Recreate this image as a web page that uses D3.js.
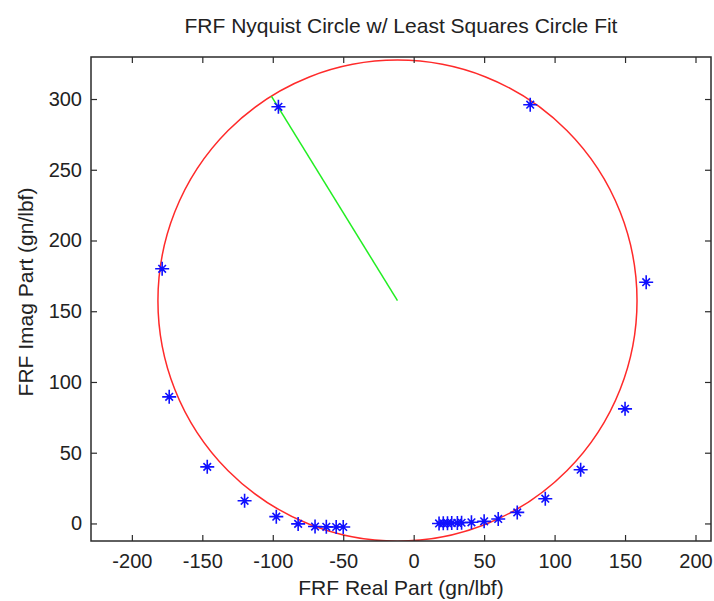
<!DOCTYPE html>
<html>
<head>
<meta charset="utf-8">
<script src="https://cdn.jsdelivr.net/npm/d3@7"></script>
<style>
  html, body { margin: 0; padding: 0; background: #fff; }
  svg { display: block; font-family: "Liberation Sans", Arial, sans-serif; }
</style>
</head>
<body>
<svg id="chart" width="714" height="601"></svg>
<script>
// Measured FRF points (real, imaginary) in gn/lbf
const frfReal = [-96, 82.7, -178.5, 165, -173.5, 150, -146.5, 118.5, -120, 93.4,
                 -97.5, 73.5, -82, 60, -70, -62, -55, -50,
                 18, 21, 24, 27, 31, 34, 41, 50];
const frfImag = [294.5, 296, 180, 170.5, 89.5, 81, 40, 38, 16, 17.5,
                 4.8, 7.8, -0.3, 3.2, -2.2, -2.4, -2.5, -2.5,
                 0, 0.1, 0.2, 0.3, 0.4, 0.5, 0.8, 1.5];

// Least squares circle fit: centre and radius
const circleCenter = [-11.5, 157.5];
const circleRadius = 170;

// Radius segment drawn from the centre to the circle
const radiusReal = [-11.5, -101];
const radiusImag = [157.5, 302];

const xTicks = [-200, -150, -100, -50, 0, 50, 100, 150, 200];
const yTicks = [0, 50, 100, 150, 200, 250, 300];
const xDomain = [-229, 211];
const yDomain = [-12.4, 329.7];

const svg = d3.select("#chart");
const plot = { left: 91, right: 711, top: 57, bottom: 541 };

const x = d3.scaleLinear().domain(xDomain).range([plot.left, plot.right]);
const y = d3.scaleLinear().domain(yDomain).range([plot.bottom, plot.top]);

const textColor = "#222";
const frameColor = "#2b2b2b";
const plainNumber = d => String(d);

svg.append("defs").append("clipPath").attr("id", "plotClip")
  .append("rect")
  .attr("x", plot.left).attr("y", plot.top)
  .attr("width", plot.right - plot.left).attr("height", plot.bottom - plot.top);

const g = svg.append("g").attr("clip-path", "url(#plotClip)");

// Fitted circle
g.append("ellipse")
  .attr("cx", x(circleCenter[0]))
  .attr("cy", y(circleCenter[1]))
  .attr("rx", x(circleCenter[0] + circleRadius) - x(circleCenter[0]))
  .attr("ry", y(circleCenter[1]) - y(circleCenter[1] + circleRadius))
  .attr("fill", "none")
  .attr("stroke", "#ff2a2a")
  .attr("stroke-width", 1.5);

// Radius line
g.append("path")
  .datum(d3.range(radiusReal.length).map(i => [radiusReal[i], radiusImag[i]]))
  .attr("d", d3.line().x(d => x(d[0])).y(d => y(d[1])))
  .attr("fill", "none")
  .attr("stroke", "#22ee22")
  .attr("stroke-width", 1.5);

// Asterisk markers
const pts = d3.range(frfReal.length).map(i => [frfReal[i], frfImag[i]]);
const arm = 7, diag = 3.8;
const star = `M${-arm},0L${arm},0M0,${-arm}L0,${arm}` +
             `M${-diag},${-diag}L${diag},${diag}M${-diag},${diag}L${diag},${-diag}`;
svg.append("g").selectAll("path.pt")
  .data(pts).join("path")
  .attr("class", "pt")
  .attr("transform", d => `translate(${x(d[0])},${y(d[1])})`)
  .attr("d", star)
  .attr("fill", "none")
  .attr("stroke", "#1010ff")
  .attr("stroke-width", 1.6);

// Axes with inward ticks on all four sides
const tickLen = 6;
function styleAxis(sel) {
  sel.select(".domain").remove();
  sel.selectAll(".tick line").attr("stroke", frameColor).attr("stroke-width", 1.2);
  sel.selectAll(".tick text").attr("fill", textColor)
    .style("font-size", "20px")
    .style("font-family", "'Liberation Sans', Arial, sans-serif");
}
svg.append("g").attr("transform", `translate(0,${plot.bottom})`)
  .call(d3.axisBottom(x).tickValues(xTicks).tickSize(-tickLen).tickPadding(12.5).tickFormat(plainNumber))
  .call(styleAxis);
svg.append("g").attr("transform", `translate(0,${plot.top})`)
  .call(d3.axisTop(x).tickValues(xTicks).tickSize(-tickLen).tickFormat(""))
  .call(styleAxis);
svg.append("g").attr("transform", `translate(${plot.left},0)`)
  .call(d3.axisLeft(y).tickValues(yTicks).tickSize(-tickLen).tickPadding(9).tickFormat(plainNumber))
  .call(styleAxis);
svg.append("g").attr("transform", `translate(${plot.right},0)`)
  .call(d3.axisRight(y).tickValues(yTicks).tickSize(-tickLen).tickFormat(""))
  .call(styleAxis);

// Frame
svg.append("rect")
  .attr("x", plot.left).attr("y", plot.top)
  .attr("width", plot.right - plot.left).attr("height", plot.bottom - plot.top)
  .attr("fill", "none").attr("stroke", frameColor).attr("stroke-width", 1.5);

// Title and axis labels
svg.append("text")
  .attr("x", (plot.left + plot.right) / 2).attr("y", 33)
  .attr("text-anchor", "middle").attr("fill", textColor)
  .style("font-size", "21px")
  .text("FRF Nyquist Circle w/ Least Squares Circle Fit");

svg.append("text")
  .attr("x", (plot.left + plot.right) / 2).attr("y", 595)
  .attr("text-anchor", "middle").attr("fill", textColor)
  .style("font-size", "21px")
  .text("FRF Real Part (gn/lbf)");

svg.append("text")
  .attr("transform", "translate(33,292) rotate(-90)")
  .attr("text-anchor", "middle").attr("fill", textColor)
  .style("font-size", "21px")
  .text("FRF Imag Part (gn/lbf)");
</script>
</body>
</html>
